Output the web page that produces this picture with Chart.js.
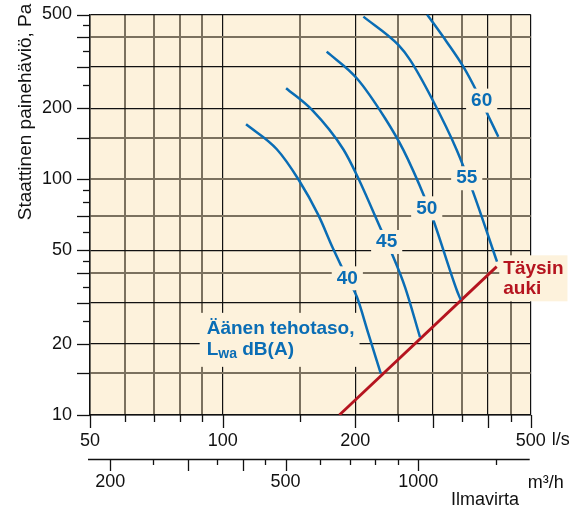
<!DOCTYPE html>
<html><head><meta charset="utf-8">
<script src="https://cdn.jsdelivr.net/npm/chart.js@4.4.0/dist/chart.umd.min.js"></script>
<style>html,body{margin:0;padding:0;background:#fff}</style>
</head><body>
<canvas id="c" width="582" height="513"></canvas>
<script>
// ---- data (flow l/s, static pressure Pa) ----
const xGridValues = [50,60,70,80,90,100,150,200,250,300,350,400,450,500];
const xLabelValues = [50,100,200,500];
const xLongTicks = [50,100,200,300,400,500];
const yGridValues = [10,15,20,30,40,50,70,100,150,200,300,400,500];
const yMinorTicks = [25,35,45,60,80,90,250,350,450];
const yLabelValues = [10,20,50,100,200,500];
const m3hTicks = [200,250,300,350,400,450,500,600,700,800,900,1000,1500];
const m3hLongTicks = [200,300,400,500,1000];
const m3hLabels = [200,500,1000];
const grayX = [60,70,80,90,150,250,350,450];
const grayY = [15,40,70,100,150,400];

const curve40Flow = [113.0,132.7,148.5,164.8,177.9,191.8,201.5,214.0,228.4];
const curve40Pa   = [171.1,134.1,100.0,70.6,51.0,38.0,31.8,22.2,15.0];
const curve45Flow = [139.3,159.5,187.8,201.5,229.9,242.3,259.3,280.4];
const curve45Pa   = [243.3,196.8,134.1,104.3,60.0,48.2,34.9,21.4];
const curve50Flow = [172.2,201.5,233.6,257.0,287.8,300.6,339.7,346.8];
const curve50Pa   = [347.8,268.3,181.5,133.2,83.1,67.2,33.9,30.8];
const curve55Flow = [208.6,250.4,266.2,298.1,339.7,368.5,419.3];
const curve55Pa   = [489.6,371.4,320.8,220.6,133.2,90.1,44.7];
const curve60Flow = [291.0,322.5,351.6,375.6,398.0,422.2];
const curve60Pa   = [500,382.4,300.4,239.2,190.5,151.6];
const fullOpenFlow = [184,418.6];
const fullOpenPa   = [10,42.6];

const levelNames = ['40','45','50','55','60'];
const levelLabelFlow = [191.8,235.6,290.4,357.9,387.0];
const levelLabelPa   = [38.0,54.2,75.3,101.0,215.6];

const BLUE = '#0a6db5', RED = '#b5141f', CREAM = '#fdf2dc';
const FONT = '"Liberation Sans", Arial, Helvetica, sans-serif';

const pts = (fx, py) => fx.map((x, i) => ({x, y: py[i]}));
const blueSet = (fx, py) => ({data: pts(fx, py), borderColor: BLUE, borderWidth: 2.5, pointRadius: 0, showLine: true, cubicInterpolationMode: 'monotone', fill: false});

const decor = {
  id: 'decor',
  beforeDraw(chart) {
    const {ctx, chartArea: a} = chart;
    ctx.save();
    ctx.fillStyle = '#fff'; ctx.fillRect(0, 0, chart.width, chart.height);
    ctx.fillStyle = CREAM; ctx.fillRect(a.left, a.top, a.right - a.left, a.bottom - a.top);
    ctx.restore();
  },
  afterDatasetsDraw(chart) {
    const {ctx, scales: {x, y}} = chart;
    ctx.save();
    ctx.textBaseline = 'middle';
    ctx.font = 'bold 19px ' + FONT;
    levelNames.forEach((t, i) => {
      const cx = x.getPixelForValue(levelLabelFlow[i]), cy = y.getPixelForValue(levelLabelPa[i]);
      const w = ctx.measureText(t).width;
      ctx.fillStyle = CREAM; ctx.fillRect(cx - w / 2 - 5, cy - 12, w + 10, 24);
      ctx.fillStyle = BLUE; ctx.textAlign = 'center'; ctx.fillText(t, cx, cy);
    });
    const tx = x.getPixelForValue(92), ty = y.getPixelForValue(23.2);
    ctx.textAlign = 'left';
    ctx.font = 'bold 19px ' + FONT;
    const w1 = ctx.measureText('Äänen tehotaso,').width;
    ctx.fillStyle = CREAM; ctx.fillRect(tx - 7, ty - 16, w1 + 12, 54);
    ctx.fillStyle = BLUE;
    ctx.fillText('Äänen tehotaso,', tx, ty);
    const ty2 = ty + 21;
    ctx.fillText('L', tx, ty2);
    const wL = ctx.measureText('L').width;
    ctx.font = 'bold 14px ' + FONT;
    ctx.fillText('wa', tx + wL, ty2 + 4);
    const wwa = ctx.measureText('wa').width;
    ctx.font = 'bold 19px ' + FONT;
    ctx.fillText(' dB(A)', tx + wL + wwa, ty2);
    const rx = x.getPixelForValue(433.3), ry = y.getPixelForValue(41.9);
    const wr = ctx.measureText('Täysin').width;
    ctx.fillStyle = CREAM; ctx.fillRect(rx - 4, ry - 13, wr + 8, 46);
    ctx.fillStyle = RED;
    ctx.fillText('Täysin', rx, ry);
    ctx.fillText('auki', rx, ry + 20);
    ctx.restore();
  },
  afterDraw(chart) {
    const {ctx, chartArea: a, scales: {x, y}} = chart;
    ctx.save();
    ctx.strokeStyle = '#111'; ctx.lineWidth = 1.3;
    yGridValues.forEach(v => { const p = Math.round(y.getPixelForValue(v)) + 0.5; ctx.beginPath(); ctx.moveTo(a.left - 13, p); ctx.lineTo(a.left, p); ctx.stroke(); });
    yMinorTicks.forEach(v => { const p = Math.round(y.getPixelForValue(v)) + 0.5; ctx.beginPath(); ctx.moveTo(a.left - 7, p); ctx.lineTo(a.left, p); ctx.stroke(); });
    xGridValues.forEach(v => { const p = Math.round(x.getPixelForValue(v)) + 0.5; const L = xLongTicks.includes(v) ? 13 : 7; ctx.beginPath(); ctx.moveTo(p, a.bottom); ctx.lineTo(p, a.bottom + L); ctx.stroke(); });
    const yl = a.bottom + 44;
    ctx.beginPath(); ctx.moveTo(a.left - 2, yl + 0.5); ctx.lineTo(a.right - 1, yl + 0.5); ctx.stroke();
    m3hTicks.forEach(v => { const p = Math.round(x.getPixelForValue(v / 3.6)) + 0.5; const L = m3hLongTicks.includes(v) ? 12 : 6; ctx.beginPath(); ctx.moveTo(p, yl); ctx.lineTo(p, yl + L); ctx.stroke(); });
    ctx.fillStyle = '#111';
    ctx.font = '18px ' + FONT;
    ctx.textBaseline = 'middle';
    ctx.textAlign = 'center';
    m3hLabels.forEach(v => ctx.fillText(String(v), x.getPixelForValue(v / 3.6), yl + 23));
    ctx.textAlign = 'left';
    ctx.fillText('m³/h', a.right - 3, yl + 24);
    ctx.fillText('l/s', x.getPixelForValue(500) + 21, a.bottom + 25);
    ctx.textAlign = 'center';
    ctx.fillText('Ilmavirta', 485, yl + 41);
    ctx.translate(26, 112);
    ctx.rotate(-Math.PI / 2);
    ctx.font = '19px ' + FONT;
    ctx.fillText('Staattinen painehäviö, Pa', 0, 0);
    ctx.restore();
  }
};

new Chart(document.getElementById('c'), {
  type: 'scatter',
  data: {
    datasets: [
      blueSet(curve40Flow, curve40Pa),
      blueSet(curve45Flow, curve45Pa),
      blueSet(curve50Flow, curve50Pa),
      blueSet(curve55Flow, curve55Pa),
      blueSet(curve60Flow, curve60Pa),
      {data: pts(fullOpenFlow, fullOpenPa), borderColor: RED, borderWidth: 2.8, pointRadius: 0, showLine: true, fill: false}
    ]
  },
  options: {
    responsive: false, animation: false, devicePixelRatio: 1,
    layout: {padding: {left: 0, top: 14.5, right: 51.3, bottom: 0}},
    plugins: {legend: {display: false}, tooltip: {enabled: false}},
    scales: {
      x: {
        type: 'logarithmic', position: 'bottom', min: 50, max: 500,
        afterBuildTicks: s => { s.ticks = xGridValues.map(v => ({value: v})); },
        afterFit: s => { s.height = 98; s.paddingLeft = 0; s.paddingRight = 0; },
        ticks: {autoSkip: false, maxRotation: 0, padding: 15, color: '#111', font: {family: FONT, size: 18},
                callback: v => xLabelValues.includes(v) ? String(v) : ''},
        grid: {drawTicks: false,
               color: c => grayX.includes(c.tick && c.tick.value) ? '#7b715f' : '#111',
               lineWidth: c => grayX.includes(c.tick && c.tick.value) ? 2 : 1.2},
        border: {display: true, color: '#111', width: 1.5}
      },
      y: {
        type: 'logarithmic', position: 'left', min: 10, max: 500,
        afterBuildTicks: s => { s.ticks = yGridValues.map(v => ({value: v})); },
        afterFit: s => { s.width = 90; s.paddingTop = 0; s.paddingBottom = 0; },
        ticks: {autoSkip: false, padding: 18, color: '#111', font: {family: FONT, size: 18},
                callback: v => yLabelValues.includes(v) ? String(v) : ''},
        grid: {drawTicks: false,
               color: c => grayY.includes(c.tick && c.tick.value) ? '#7b715f' : '#111',
               lineWidth: c => grayY.includes(c.tick && c.tick.value) ? 2 : 1.2},
        border: {display: true, color: '#111', width: 1.5}
      }
    }
  },
  plugins: [decor]
});
</script>
</body></html>
